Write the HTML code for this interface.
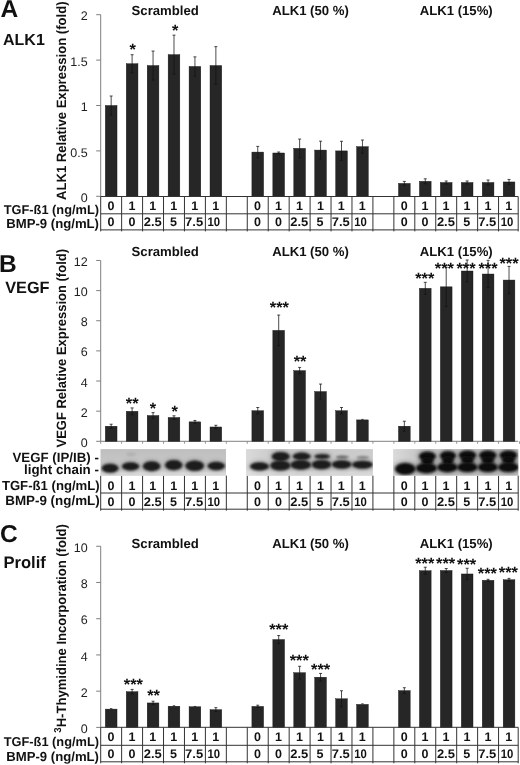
<!DOCTYPE html>
<html lang="en"><head><meta charset="utf-8"><title>Figure</title>
<style>html,body{margin:0;padding:0;background:#fff}body{width:520px;height:765px;overflow:hidden}svg{display:block;will-change:transform}</style>
</head><body>
<svg width="520" height="765" viewBox="0 0 520 765" font-family='"Liberation Sans", Arial, Helvetica, sans-serif' text-rendering="geometricPrecision">
<defs><filter id="b1" x="-30%" y="-60%" width="160%" height="220%"><feGaussianBlur stdDeviation="1.0"/></filter><filter id="b2" x="-40%" y="-80%" width="180%" height="260%"><feGaussianBlur stdDeviation="2.2"/></filter><linearGradient id="g1" x1="0" y1="0" x2="0" y2="1"><stop offset="0" stop-color="#bebebe"/><stop offset="0.6" stop-color="#c8c8c8"/><stop offset="1" stop-color="#d2d2d2"/></linearGradient><linearGradient id="g2" x1="0" y1="0" x2="1" y2="0"><stop offset="0" stop-color="#dadada"/><stop offset="0.25" stop-color="#c8c8c8"/><stop offset="1" stop-color="#cccccc"/></linearGradient><linearGradient id="g3" x1="0" y1="0" x2="1" y2="0"><stop offset="0" stop-color="#dadada"/><stop offset="0.2" stop-color="#c6c6c6"/><stop offset="1" stop-color="#bcbcbc"/></linearGradient></defs>
<rect width="520" height="765" fill="#fff"/>
<line x1="100.7" y1="14.70" x2="100.7" y2="196.30" stroke="#7f7f7f" stroke-width="1"/>
<line x1="96.2" y1="196.30" x2="100.7" y2="196.30" stroke="#7f7f7f" stroke-width="1"/>
<text x="87.60" y="201.90" font-size="12.5" font-weight="normal" text-anchor="end" fill="#222" >0</text>
<line x1="96.2" y1="150.90" x2="100.7" y2="150.90" stroke="#7f7f7f" stroke-width="1"/>
<text x="87.60" y="156.50" font-size="12.5" font-weight="normal" text-anchor="end" fill="#222" >0.5</text>
<line x1="96.2" y1="105.50" x2="100.7" y2="105.50" stroke="#7f7f7f" stroke-width="1"/>
<text x="87.60" y="111.10" font-size="12.5" font-weight="normal" text-anchor="end" fill="#222" >1</text>
<line x1="96.2" y1="60.10" x2="100.7" y2="60.10" stroke="#7f7f7f" stroke-width="1"/>
<text x="87.60" y="65.70" font-size="12.5" font-weight="normal" text-anchor="end" fill="#222" >1.5</text>
<line x1="96.2" y1="14.70" x2="100.7" y2="14.70" stroke="#7f7f7f" stroke-width="1"/>
<text x="87.60" y="20.30" font-size="12.5" font-weight="normal" text-anchor="end" fill="#222" >2</text>
<rect x="105.32" y="105.50" width="11.7" height="90.80" fill="#262626" stroke="#111" stroke-width="0.4"/>
<path d="M111.17 96.00V105.50M109.67 96.00h3" stroke="#111" stroke-width="0.75" fill="none"/>
<path d="M111.17 105.50V115.00M109.67 115.00h3" stroke="#141414" stroke-width="0.8" fill="none"/>
<rect x="126.26" y="63.73" width="11.7" height="132.57" fill="#262626" stroke="#111" stroke-width="0.4"/>
<path d="M132.11 54.73V63.73M130.61 54.73h3" stroke="#111" stroke-width="0.75" fill="none"/>
<path d="M132.11 63.73V72.73M130.61 72.73h3" stroke="#141414" stroke-width="0.8" fill="none"/>
<rect x="147.20" y="65.55" width="11.7" height="130.75" fill="#262626" stroke="#111" stroke-width="0.4"/>
<path d="M153.05 51.05V65.55M151.55 51.05h3" stroke="#111" stroke-width="0.75" fill="none"/>
<path d="M153.05 65.55V80.05M151.55 80.05h3" stroke="#141414" stroke-width="0.8" fill="none"/>
<rect x="168.14" y="54.65" width="11.7" height="141.65" fill="#262626" stroke="#111" stroke-width="0.4"/>
<path d="M173.99 35.15V54.65M172.49 35.15h3" stroke="#111" stroke-width="0.75" fill="none"/>
<path d="M173.99 54.65V74.15M172.49 74.15h3" stroke="#141414" stroke-width="0.8" fill="none"/>
<rect x="189.08" y="66.46" width="11.7" height="129.84" fill="#262626" stroke="#111" stroke-width="0.4"/>
<path d="M194.93 56.86V66.46M193.43 56.86h3" stroke="#111" stroke-width="0.75" fill="none"/>
<path d="M194.93 66.46V76.06M193.43 76.06h3" stroke="#141414" stroke-width="0.8" fill="none"/>
<rect x="210.02" y="65.55" width="11.7" height="130.75" fill="#262626" stroke="#111" stroke-width="0.4"/>
<path d="M215.87 46.65V65.55M214.37 46.65h3" stroke="#111" stroke-width="0.75" fill="none"/>
<path d="M215.87 65.55V84.45M214.37 84.45h3" stroke="#141414" stroke-width="0.8" fill="none"/>
<rect x="251.90" y="152.08" width="11.7" height="44.22" fill="#262626" stroke="#111" stroke-width="0.4"/>
<path d="M257.75 146.38V152.08M256.25 146.38h3" stroke="#111" stroke-width="0.75" fill="none"/>
<path d="M257.75 152.08V157.78M256.25 157.78h3" stroke="#141414" stroke-width="0.8" fill="none"/>
<rect x="272.84" y="152.99" width="11.7" height="43.31" fill="#262626" stroke="#111" stroke-width="0.4"/>
<path d="M278.69 151.99V152.99M277.19 151.99h3" stroke="#111" stroke-width="0.75" fill="none"/>
<path d="M278.69 152.99V153.99M277.19 153.99h3" stroke="#141414" stroke-width="0.8" fill="none"/>
<rect x="293.78" y="148.36" width="11.7" height="47.94" fill="#262626" stroke="#111" stroke-width="0.4"/>
<path d="M299.63 139.06V148.36M298.13 139.06h3" stroke="#111" stroke-width="0.75" fill="none"/>
<path d="M299.63 148.36V157.66M298.13 157.66h3" stroke="#141414" stroke-width="0.8" fill="none"/>
<rect x="314.72" y="150.08" width="11.7" height="46.22" fill="#262626" stroke="#111" stroke-width="0.4"/>
<path d="M320.57 141.18V150.08M319.07 141.18h3" stroke="#111" stroke-width="0.75" fill="none"/>
<path d="M320.57 150.08V158.98M319.07 158.98h3" stroke="#141414" stroke-width="0.8" fill="none"/>
<rect x="335.66" y="150.90" width="11.7" height="45.40" fill="#262626" stroke="#111" stroke-width="0.4"/>
<path d="M341.51 141.30V150.90M340.01 141.30h3" stroke="#111" stroke-width="0.75" fill="none"/>
<path d="M341.51 150.90V160.50M340.01 160.50h3" stroke="#141414" stroke-width="0.8" fill="none"/>
<rect x="356.60" y="146.63" width="11.7" height="49.67" fill="#262626" stroke="#111" stroke-width="0.4"/>
<path d="M362.45 140.03V146.63M360.95 140.03h3" stroke="#111" stroke-width="0.75" fill="none"/>
<path d="M362.45 146.63V153.23M360.95 153.23h3" stroke="#141414" stroke-width="0.8" fill="none"/>
<rect x="398.48" y="183.41" width="11.7" height="12.89" fill="#262626" stroke="#111" stroke-width="0.4"/>
<path d="M404.33 181.41V183.41M402.83 181.41h3" stroke="#111" stroke-width="0.75" fill="none"/>
<path d="M404.33 183.41V185.41M402.83 185.41h3" stroke="#141414" stroke-width="0.8" fill="none"/>
<rect x="419.42" y="181.32" width="11.7" height="14.98" fill="#262626" stroke="#111" stroke-width="0.4"/>
<path d="M425.27 178.82V181.32M423.77 178.82h3" stroke="#111" stroke-width="0.75" fill="none"/>
<path d="M425.27 181.32V183.82M423.77 183.82h3" stroke="#141414" stroke-width="0.8" fill="none"/>
<rect x="440.36" y="182.50" width="11.7" height="13.80" fill="#262626" stroke="#111" stroke-width="0.4"/>
<path d="M446.21 181.00V182.50M444.71 181.00h3" stroke="#111" stroke-width="0.75" fill="none"/>
<path d="M446.21 182.50V184.00M444.71 184.00h3" stroke="#141414" stroke-width="0.8" fill="none"/>
<rect x="461.30" y="182.50" width="11.7" height="13.80" fill="#262626" stroke="#111" stroke-width="0.4"/>
<path d="M467.15 181.00V182.50M465.65 181.00h3" stroke="#111" stroke-width="0.75" fill="none"/>
<path d="M467.15 182.50V184.00M465.65 184.00h3" stroke="#141414" stroke-width="0.8" fill="none"/>
<rect x="482.24" y="182.50" width="11.7" height="13.80" fill="#262626" stroke="#111" stroke-width="0.4"/>
<path d="M488.09 180.00V182.50M486.59 180.00h3" stroke="#111" stroke-width="0.75" fill="none"/>
<path d="M488.09 182.50V185.00M486.59 185.00h3" stroke="#141414" stroke-width="0.8" fill="none"/>
<rect x="503.18" y="181.95" width="11.7" height="14.35" fill="#262626" stroke="#111" stroke-width="0.4"/>
<path d="M509.03 179.45V181.95M507.53 179.45h3" stroke="#111" stroke-width="0.75" fill="none"/>
<path d="M509.03 181.95V184.45M507.53 184.45h3" stroke="#141414" stroke-width="0.8" fill="none"/>
<text x="132.70" y="55.30" font-size="16.4" font-weight="bold" text-anchor="middle" fill="#111" >*</text>
<text x="175.20" y="35.70" font-size="16.4" font-weight="bold" text-anchor="middle" fill="#111" >*</text>
<text transform="translate(65.6,200.00) rotate(-90)" font-size="13.5" font-weight="bold" fill="#111" textLength="198.5" lengthAdjust="spacingAndGlyphs">ALK1 Relative Expression (fold)</text>
<text x="0.50" y="17.40" font-size="24.5" font-weight="bold" text-anchor="start" fill="#111" >A</text>
<text x="3.00" y="44.90" font-size="16" font-weight="bold" text-anchor="start" fill="#111" >ALK1</text>
<text x="165.20" y="15.30" font-size="13.15" font-weight="bold" text-anchor="middle" fill="#111" >Scrambled</text>
<text x="310.50" y="15.30" font-size="13.15" font-weight="bold" text-anchor="middle" fill="#111" >ALK1 (50 %)</text>
<text x="456.20" y="15.30" font-size="13.15" font-weight="bold" text-anchor="middle" fill="#111" >ALK1 (15%)</text>
<line x1="100.7" y1="196.50" x2="518.20" y2="196.50" stroke="#333" stroke-width="1"/>
<line x1="100.7" y1="213.80" x2="518.20" y2="213.80" stroke="#333" stroke-width="1"/>
<line x1="100.7" y1="229.90" x2="518.20" y2="229.90" stroke="#333" stroke-width="1"/>
<line x1="100.70" y1="196.50" x2="100.70" y2="231.40" stroke="#333" stroke-width="1"/>
<line x1="121.64" y1="196.50" x2="121.64" y2="231.40" stroke="#333" stroke-width="1"/>
<line x1="142.58" y1="196.50" x2="142.58" y2="231.40" stroke="#333" stroke-width="1"/>
<line x1="163.52" y1="196.50" x2="163.52" y2="231.40" stroke="#333" stroke-width="1"/>
<line x1="184.46" y1="196.50" x2="184.46" y2="231.40" stroke="#333" stroke-width="1"/>
<line x1="205.40" y1="196.50" x2="205.40" y2="231.40" stroke="#333" stroke-width="1"/>
<line x1="226.34" y1="196.50" x2="226.34" y2="231.40" stroke="#333" stroke-width="1"/>
<line x1="247.28" y1="196.50" x2="247.28" y2="231.40" stroke="#333" stroke-width="1"/>
<line x1="268.22" y1="196.50" x2="268.22" y2="231.40" stroke="#333" stroke-width="1"/>
<line x1="289.16" y1="196.50" x2="289.16" y2="231.40" stroke="#333" stroke-width="1"/>
<line x1="310.10" y1="196.50" x2="310.10" y2="231.40" stroke="#333" stroke-width="1"/>
<line x1="331.04" y1="196.50" x2="331.04" y2="231.40" stroke="#333" stroke-width="1"/>
<line x1="351.98" y1="196.50" x2="351.98" y2="231.40" stroke="#333" stroke-width="1"/>
<line x1="372.92" y1="196.50" x2="372.92" y2="231.40" stroke="#333" stroke-width="1"/>
<line x1="393.86" y1="196.50" x2="393.86" y2="231.40" stroke="#333" stroke-width="1"/>
<line x1="414.80" y1="196.50" x2="414.80" y2="231.40" stroke="#333" stroke-width="1"/>
<line x1="435.74" y1="196.50" x2="435.74" y2="231.40" stroke="#333" stroke-width="1"/>
<line x1="456.68" y1="196.50" x2="456.68" y2="231.40" stroke="#333" stroke-width="1"/>
<line x1="477.62" y1="196.50" x2="477.62" y2="231.40" stroke="#333" stroke-width="1"/>
<line x1="498.56" y1="196.50" x2="498.56" y2="231.40" stroke="#333" stroke-width="1"/>
<line x1="518.20" y1="196.50" x2="518.20" y2="231.40" stroke="#333" stroke-width="1"/>
<text x="99.00" y="213.70" font-size="12.8" font-weight="bold" text-anchor="end" fill="#111" >TGF-ß1 (ng/mL)</text>
<text x="99.00" y="228.40" font-size="13.15" font-weight="bold" text-anchor="end" fill="#111" >BMP-9 (ng/mL)</text>
<text x="110.97" y="209.70" font-size="12.5" font-weight="bold" text-anchor="middle" fill="#111" >0</text>
<text x="110.97" y="225.80" font-size="12.5" font-weight="bold" text-anchor="middle" fill="#111" >0</text>
<text x="131.91" y="209.70" font-size="12.5" font-weight="bold" text-anchor="middle" fill="#111" >1</text>
<text x="131.91" y="225.80" font-size="12.5" font-weight="bold" text-anchor="middle" fill="#111" >0</text>
<text x="152.85" y="209.70" font-size="12.5" font-weight="bold" text-anchor="middle" fill="#111" >1</text>
<text x="152.75" y="225.80" font-size="12.5" font-weight="bold" text-anchor="middle" fill="#111" textLength="18" lengthAdjust="spacingAndGlyphs">2.5</text>
<text x="173.79" y="209.70" font-size="12.5" font-weight="bold" text-anchor="middle" fill="#111" >1</text>
<text x="173.49" y="225.80" font-size="12.5" font-weight="bold" text-anchor="middle" fill="#111" >5</text>
<text x="194.73" y="209.70" font-size="12.5" font-weight="bold" text-anchor="middle" fill="#111" >1</text>
<text x="194.13" y="225.80" font-size="12.5" font-weight="bold" text-anchor="middle" fill="#111" textLength="18" lengthAdjust="spacingAndGlyphs">7.5</text>
<text x="215.67" y="209.70" font-size="12.5" font-weight="bold" text-anchor="middle" fill="#111" >1</text>
<text x="213.87" y="225.80" font-size="12.5" font-weight="bold" text-anchor="middle" fill="#111" textLength="12.6" lengthAdjust="spacingAndGlyphs">10</text>
<text x="257.55" y="209.70" font-size="12.5" font-weight="bold" text-anchor="middle" fill="#111" >0</text>
<text x="257.55" y="225.80" font-size="12.5" font-weight="bold" text-anchor="middle" fill="#111" >0</text>
<text x="278.49" y="209.70" font-size="12.5" font-weight="bold" text-anchor="middle" fill="#111" >1</text>
<text x="278.49" y="225.80" font-size="12.5" font-weight="bold" text-anchor="middle" fill="#111" >0</text>
<text x="299.43" y="209.70" font-size="12.5" font-weight="bold" text-anchor="middle" fill="#111" >1</text>
<text x="299.33" y="225.80" font-size="12.5" font-weight="bold" text-anchor="middle" fill="#111" textLength="18" lengthAdjust="spacingAndGlyphs">2.5</text>
<text x="320.37" y="209.70" font-size="12.5" font-weight="bold" text-anchor="middle" fill="#111" >1</text>
<text x="320.07" y="225.80" font-size="12.5" font-weight="bold" text-anchor="middle" fill="#111" >5</text>
<text x="341.31" y="209.70" font-size="12.5" font-weight="bold" text-anchor="middle" fill="#111" >1</text>
<text x="340.71" y="225.80" font-size="12.5" font-weight="bold" text-anchor="middle" fill="#111" textLength="18" lengthAdjust="spacingAndGlyphs">7.5</text>
<text x="362.25" y="209.70" font-size="12.5" font-weight="bold" text-anchor="middle" fill="#111" >1</text>
<text x="360.45" y="225.80" font-size="12.5" font-weight="bold" text-anchor="middle" fill="#111" textLength="12.6" lengthAdjust="spacingAndGlyphs">10</text>
<text x="404.13" y="209.70" font-size="12.5" font-weight="bold" text-anchor="middle" fill="#111" >0</text>
<text x="404.13" y="225.80" font-size="12.5" font-weight="bold" text-anchor="middle" fill="#111" >0</text>
<text x="425.07" y="209.70" font-size="12.5" font-weight="bold" text-anchor="middle" fill="#111" >1</text>
<text x="425.07" y="225.80" font-size="12.5" font-weight="bold" text-anchor="middle" fill="#111" >0</text>
<text x="446.01" y="209.70" font-size="12.5" font-weight="bold" text-anchor="middle" fill="#111" >1</text>
<text x="445.91" y="225.80" font-size="12.5" font-weight="bold" text-anchor="middle" fill="#111" textLength="18" lengthAdjust="spacingAndGlyphs">2.5</text>
<text x="466.95" y="209.70" font-size="12.5" font-weight="bold" text-anchor="middle" fill="#111" >1</text>
<text x="466.65" y="225.80" font-size="12.5" font-weight="bold" text-anchor="middle" fill="#111" >5</text>
<text x="487.89" y="209.70" font-size="12.5" font-weight="bold" text-anchor="middle" fill="#111" >1</text>
<text x="487.29" y="225.80" font-size="12.5" font-weight="bold" text-anchor="middle" fill="#111" textLength="18" lengthAdjust="spacingAndGlyphs">7.5</text>
<text x="508.83" y="209.70" font-size="12.5" font-weight="bold" text-anchor="middle" fill="#111" >1</text>
<text x="507.03" y="225.80" font-size="12.5" font-weight="bold" text-anchor="middle" fill="#111" textLength="12.6" lengthAdjust="spacingAndGlyphs">10</text>
<line x1="100.7" y1="260.50" x2="100.7" y2="441.30" stroke="#7f7f7f" stroke-width="1"/>
<line x1="96.2" y1="441.30" x2="100.7" y2="441.30" stroke="#7f7f7f" stroke-width="1"/>
<text x="87.60" y="446.90" font-size="12.5" font-weight="normal" text-anchor="end" fill="#222" >0</text>
<line x1="96.2" y1="411.16" x2="100.7" y2="411.16" stroke="#7f7f7f" stroke-width="1"/>
<text x="87.60" y="416.76" font-size="12.5" font-weight="normal" text-anchor="end" fill="#222" >2</text>
<line x1="96.2" y1="381.02" x2="100.7" y2="381.02" stroke="#7f7f7f" stroke-width="1"/>
<text x="87.60" y="386.62" font-size="12.5" font-weight="normal" text-anchor="end" fill="#222" >4</text>
<line x1="96.2" y1="350.88" x2="100.7" y2="350.88" stroke="#7f7f7f" stroke-width="1"/>
<text x="87.60" y="356.48" font-size="12.5" font-weight="normal" text-anchor="end" fill="#222" >6</text>
<line x1="96.2" y1="320.74" x2="100.7" y2="320.74" stroke="#7f7f7f" stroke-width="1"/>
<text x="87.60" y="326.34" font-size="12.5" font-weight="normal" text-anchor="end" fill="#222" >8</text>
<line x1="96.2" y1="290.60" x2="100.7" y2="290.60" stroke="#7f7f7f" stroke-width="1"/>
<text x="87.60" y="296.20" font-size="12.5" font-weight="normal" text-anchor="end" fill="#222" >10</text>
<line x1="96.2" y1="260.46" x2="100.7" y2="260.46" stroke="#7f7f7f" stroke-width="1"/>
<text x="87.60" y="266.06" font-size="12.5" font-weight="normal" text-anchor="end" fill="#222" >12</text>
<line x1="100.7" y1="441.30" x2="518.20" y2="441.30" stroke="#7f7f7f" stroke-width="1"/>
<line x1="100.70" y1="441.30" x2="100.70" y2="443.80" stroke="#7f7f7f" stroke-width="0.8"/>
<line x1="121.64" y1="441.30" x2="121.64" y2="443.80" stroke="#7f7f7f" stroke-width="0.8"/>
<line x1="142.58" y1="441.30" x2="142.58" y2="443.80" stroke="#7f7f7f" stroke-width="0.8"/>
<line x1="163.52" y1="441.30" x2="163.52" y2="443.80" stroke="#7f7f7f" stroke-width="0.8"/>
<line x1="184.46" y1="441.30" x2="184.46" y2="443.80" stroke="#7f7f7f" stroke-width="0.8"/>
<line x1="205.40" y1="441.30" x2="205.40" y2="443.80" stroke="#7f7f7f" stroke-width="0.8"/>
<line x1="226.34" y1="441.30" x2="226.34" y2="443.80" stroke="#7f7f7f" stroke-width="0.8"/>
<line x1="247.28" y1="441.30" x2="247.28" y2="443.80" stroke="#7f7f7f" stroke-width="0.8"/>
<line x1="268.22" y1="441.30" x2="268.22" y2="443.80" stroke="#7f7f7f" stroke-width="0.8"/>
<line x1="289.16" y1="441.30" x2="289.16" y2="443.80" stroke="#7f7f7f" stroke-width="0.8"/>
<line x1="310.10" y1="441.30" x2="310.10" y2="443.80" stroke="#7f7f7f" stroke-width="0.8"/>
<line x1="331.04" y1="441.30" x2="331.04" y2="443.80" stroke="#7f7f7f" stroke-width="0.8"/>
<line x1="351.98" y1="441.30" x2="351.98" y2="443.80" stroke="#7f7f7f" stroke-width="0.8"/>
<line x1="372.92" y1="441.30" x2="372.92" y2="443.80" stroke="#7f7f7f" stroke-width="0.8"/>
<line x1="393.86" y1="441.30" x2="393.86" y2="443.80" stroke="#7f7f7f" stroke-width="0.8"/>
<line x1="414.80" y1="441.30" x2="414.80" y2="443.80" stroke="#7f7f7f" stroke-width="0.8"/>
<line x1="435.74" y1="441.30" x2="435.74" y2="443.80" stroke="#7f7f7f" stroke-width="0.8"/>
<line x1="456.68" y1="441.30" x2="456.68" y2="443.80" stroke="#7f7f7f" stroke-width="0.8"/>
<line x1="477.62" y1="441.30" x2="477.62" y2="443.80" stroke="#7f7f7f" stroke-width="0.8"/>
<line x1="498.56" y1="441.30" x2="498.56" y2="443.80" stroke="#7f7f7f" stroke-width="0.8"/>
<line x1="519.50" y1="441.30" x2="519.50" y2="443.80" stroke="#7f7f7f" stroke-width="0.8"/>
<rect x="105.32" y="426.23" width="11.7" height="15.07" fill="#262626" stroke="#111" stroke-width="0.4"/>
<path d="M111.17 424.23V426.23M109.67 424.23h3" stroke="#111" stroke-width="0.75" fill="none"/>
<path d="M111.17 426.23V428.23M109.67 428.23h3" stroke="#141414" stroke-width="0.8" fill="none"/>
<rect x="126.26" y="411.31" width="11.7" height="29.99" fill="#262626" stroke="#111" stroke-width="0.4"/>
<path d="M132.11 407.91V411.31M130.61 407.91h3" stroke="#111" stroke-width="0.75" fill="none"/>
<path d="M132.11 411.31V414.71M130.61 414.71h3" stroke="#141414" stroke-width="0.8" fill="none"/>
<rect x="147.20" y="415.53" width="11.7" height="25.77" fill="#262626" stroke="#111" stroke-width="0.4"/>
<path d="M153.05 412.63V415.53M151.55 412.63h3" stroke="#111" stroke-width="0.75" fill="none"/>
<path d="M153.05 415.53V418.43M151.55 418.43h3" stroke="#141414" stroke-width="0.8" fill="none"/>
<rect x="168.14" y="417.49" width="11.7" height="23.81" fill="#262626" stroke="#111" stroke-width="0.4"/>
<path d="M173.99 415.79V417.49M172.49 415.79h3" stroke="#111" stroke-width="0.75" fill="none"/>
<path d="M173.99 417.49V419.19M172.49 419.19h3" stroke="#141414" stroke-width="0.8" fill="none"/>
<rect x="189.08" y="421.86" width="11.7" height="19.44" fill="#262626" stroke="#111" stroke-width="0.4"/>
<path d="M194.93 420.46V421.86M193.43 420.46h3" stroke="#111" stroke-width="0.75" fill="none"/>
<path d="M194.93 421.86V423.26M193.43 423.26h3" stroke="#141414" stroke-width="0.8" fill="none"/>
<rect x="210.02" y="426.98" width="11.7" height="14.32" fill="#262626" stroke="#111" stroke-width="0.4"/>
<path d="M215.87 425.28V426.98M214.37 425.28h3" stroke="#111" stroke-width="0.75" fill="none"/>
<path d="M215.87 426.98V428.68M214.37 428.68h3" stroke="#141414" stroke-width="0.8" fill="none"/>
<rect x="251.90" y="410.71" width="11.7" height="30.59" fill="#262626" stroke="#111" stroke-width="0.4"/>
<path d="M257.75 407.51V410.71M256.25 407.51h3" stroke="#111" stroke-width="0.75" fill="none"/>
<path d="M257.75 410.71V413.91M256.25 413.91h3" stroke="#141414" stroke-width="0.8" fill="none"/>
<rect x="272.84" y="330.38" width="11.7" height="110.92" fill="#262626" stroke="#111" stroke-width="0.4"/>
<path d="M278.69 315.08V330.38M277.19 315.08h3" stroke="#111" stroke-width="0.75" fill="none"/>
<path d="M278.69 330.38V345.68M277.19 345.68h3" stroke="#141414" stroke-width="0.8" fill="none"/>
<rect x="293.78" y="370.62" width="11.7" height="70.68" fill="#262626" stroke="#111" stroke-width="0.4"/>
<path d="M299.63 367.42V370.62M298.13 367.42h3" stroke="#111" stroke-width="0.75" fill="none"/>
<path d="M299.63 370.62V373.82M298.13 373.82h3" stroke="#141414" stroke-width="0.8" fill="none"/>
<rect x="314.72" y="391.57" width="11.7" height="49.73" fill="#262626" stroke="#111" stroke-width="0.4"/>
<path d="M320.57 384.07V391.57M319.07 384.07h3" stroke="#111" stroke-width="0.75" fill="none"/>
<path d="M320.57 391.57V399.07M319.07 399.07h3" stroke="#141414" stroke-width="0.8" fill="none"/>
<rect x="335.66" y="410.71" width="11.7" height="30.59" fill="#262626" stroke="#111" stroke-width="0.4"/>
<path d="M341.51 407.51V410.71M340.01 407.51h3" stroke="#111" stroke-width="0.75" fill="none"/>
<path d="M341.51 410.71V413.91M340.01 413.91h3" stroke="#141414" stroke-width="0.8" fill="none"/>
<rect x="356.60" y="419.90" width="11.7" height="21.40" fill="#262626" stroke="#111" stroke-width="0.4"/>
<path d="M361.25 419.40h2.4" stroke="#222" stroke-width="0.8" fill="none"/>
<rect x="398.48" y="426.23" width="11.7" height="15.07" fill="#262626" stroke="#111" stroke-width="0.4"/>
<path d="M404.33 421.23V426.23M402.83 421.23h3" stroke="#111" stroke-width="0.75" fill="none"/>
<path d="M404.33 426.23V431.23M402.83 431.23h3" stroke="#141414" stroke-width="0.8" fill="none"/>
<rect x="419.42" y="288.34" width="11.7" height="152.96" fill="#262626" stroke="#111" stroke-width="0.4"/>
<path d="M425.27 282.34V288.34M423.77 282.34h3" stroke="#111" stroke-width="0.75" fill="none"/>
<path d="M425.27 288.34V294.34M423.77 294.34h3" stroke="#141414" stroke-width="0.8" fill="none"/>
<rect x="440.36" y="286.83" width="11.7" height="154.47" fill="#262626" stroke="#111" stroke-width="0.4"/>
<path d="M446.21 267.23V286.83M444.71 267.23h3" stroke="#111" stroke-width="0.75" fill="none"/>
<path d="M446.21 286.83V306.43M444.71 306.43h3" stroke="#141414" stroke-width="0.8" fill="none"/>
<rect x="461.30" y="271.01" width="11.7" height="170.29" fill="#262626" stroke="#111" stroke-width="0.4"/>
<path d="M467.15 260.01V271.01M465.65 260.01h3" stroke="#111" stroke-width="0.75" fill="none"/>
<path d="M467.15 271.01V282.01M465.65 282.01h3" stroke="#141414" stroke-width="0.8" fill="none"/>
<rect x="482.24" y="274.02" width="11.7" height="167.28" fill="#262626" stroke="#111" stroke-width="0.4"/>
<path d="M488.09 260.32V274.02M486.59 260.32h3" stroke="#111" stroke-width="0.75" fill="none"/>
<path d="M488.09 274.02V287.72M486.59 287.72h3" stroke="#141414" stroke-width="0.8" fill="none"/>
<rect x="503.18" y="280.05" width="11.7" height="161.25" fill="#262626" stroke="#111" stroke-width="0.4"/>
<path d="M509.03 266.35V280.05M507.53 266.35h3" stroke="#111" stroke-width="0.75" fill="none"/>
<path d="M509.03 280.05V293.75M507.53 293.75h3" stroke="#141414" stroke-width="0.8" fill="none"/>
<text x="132.20" y="409.00" font-size="16.4" font-weight="bold" text-anchor="middle" fill="#111" >**</text>
<text x="153.00" y="414.00" font-size="16.4" font-weight="bold" text-anchor="middle" fill="#111" >*</text>
<text x="174.60" y="416.70" font-size="16.4" font-weight="bold" text-anchor="middle" fill="#111" >*</text>
<text x="279.40" y="312.90" font-size="16.4" font-weight="bold" text-anchor="middle" fill="#111" >***</text>
<text x="300.10" y="366.90" font-size="16.4" font-weight="bold" text-anchor="middle" fill="#111" >**</text>
<text x="424.75" y="283.90" font-size="16.4" font-weight="bold" text-anchor="middle" fill="#111" >***</text>
<text x="444.40" y="274.20" font-size="16.4" font-weight="bold" text-anchor="middle" fill="#111" >***</text>
<text x="466.00" y="274.20" font-size="16.4" font-weight="bold" text-anchor="middle" fill="#111" >***</text>
<text x="488.00" y="274.20" font-size="16.4" font-weight="bold" text-anchor="middle" fill="#111" >***</text>
<text x="509.00" y="269.20" font-size="16.4" font-weight="bold" text-anchor="middle" fill="#111" >***</text>
<text transform="translate(65.6,447.50) rotate(-90)" font-size="13.5" font-weight="bold" fill="#111" textLength="198.5" lengthAdjust="spacingAndGlyphs">VEGF Relative Expression (fold)</text>
<text x="-1.10" y="272.20" font-size="24.5" font-weight="bold" text-anchor="start" fill="#111" >B</text>
<text x="5.20" y="292.90" font-size="16.3" font-weight="bold" text-anchor="start" fill="#111" >VEGF</text>
<text x="165.20" y="255.80" font-size="13.15" font-weight="bold" text-anchor="middle" fill="#111" >Scrambled</text>
<text x="310.50" y="255.80" font-size="13.15" font-weight="bold" text-anchor="middle" fill="#111" >ALK1 (50 %)</text>
<text x="456.20" y="255.80" font-size="13.15" font-weight="bold" text-anchor="middle" fill="#111" >ALK1 (15%)</text>
<line x1="100.7" y1="493.00" x2="518.20" y2="493.00" stroke="#333" stroke-width="1"/>
<line x1="100.7" y1="509.20" x2="518.20" y2="509.20" stroke="#333" stroke-width="1"/>
<line x1="100.70" y1="475.60" x2="100.70" y2="510.70" stroke="#333" stroke-width="1"/>
<line x1="121.64" y1="475.60" x2="121.64" y2="510.70" stroke="#333" stroke-width="1"/>
<line x1="142.58" y1="475.60" x2="142.58" y2="510.70" stroke="#333" stroke-width="1"/>
<line x1="163.52" y1="475.60" x2="163.52" y2="510.70" stroke="#333" stroke-width="1"/>
<line x1="184.46" y1="475.60" x2="184.46" y2="510.70" stroke="#333" stroke-width="1"/>
<line x1="205.40" y1="475.60" x2="205.40" y2="510.70" stroke="#333" stroke-width="1"/>
<line x1="226.34" y1="475.60" x2="226.34" y2="510.70" stroke="#333" stroke-width="1"/>
<line x1="247.28" y1="475.60" x2="247.28" y2="510.70" stroke="#333" stroke-width="1"/>
<line x1="268.22" y1="475.60" x2="268.22" y2="510.70" stroke="#333" stroke-width="1"/>
<line x1="289.16" y1="475.60" x2="289.16" y2="510.70" stroke="#333" stroke-width="1"/>
<line x1="310.10" y1="475.60" x2="310.10" y2="510.70" stroke="#333" stroke-width="1"/>
<line x1="331.04" y1="475.60" x2="331.04" y2="510.70" stroke="#333" stroke-width="1"/>
<line x1="351.98" y1="475.60" x2="351.98" y2="510.70" stroke="#333" stroke-width="1"/>
<line x1="372.92" y1="475.60" x2="372.92" y2="510.70" stroke="#333" stroke-width="1"/>
<line x1="393.86" y1="475.60" x2="393.86" y2="510.70" stroke="#333" stroke-width="1"/>
<line x1="414.80" y1="475.60" x2="414.80" y2="510.70" stroke="#333" stroke-width="1"/>
<line x1="435.74" y1="475.60" x2="435.74" y2="510.70" stroke="#333" stroke-width="1"/>
<line x1="456.68" y1="475.60" x2="456.68" y2="510.70" stroke="#333" stroke-width="1"/>
<line x1="477.62" y1="475.60" x2="477.62" y2="510.70" stroke="#333" stroke-width="1"/>
<line x1="498.56" y1="475.60" x2="498.56" y2="510.70" stroke="#333" stroke-width="1"/>
<line x1="518.20" y1="475.60" x2="518.20" y2="510.70" stroke="#333" stroke-width="1"/>
<text x="99.70" y="490.00" font-size="13.15" font-weight="bold" text-anchor="end" fill="#111" >TGF-ß1 (ng/mL)</text>
<text x="99.70" y="505.10" font-size="13.4" font-weight="bold" text-anchor="end" fill="#111" >BMP-9 (ng/mL)</text>
<text x="110.97" y="489.80" font-size="12.5" font-weight="bold" text-anchor="middle" fill="#111" >0</text>
<text x="110.97" y="505.50" font-size="12.5" font-weight="bold" text-anchor="middle" fill="#111" >0</text>
<text x="131.91" y="489.80" font-size="12.5" font-weight="bold" text-anchor="middle" fill="#111" >1</text>
<text x="131.91" y="505.50" font-size="12.5" font-weight="bold" text-anchor="middle" fill="#111" >0</text>
<text x="152.85" y="489.80" font-size="12.5" font-weight="bold" text-anchor="middle" fill="#111" >1</text>
<text x="152.75" y="505.50" font-size="12.5" font-weight="bold" text-anchor="middle" fill="#111" textLength="18" lengthAdjust="spacingAndGlyphs">2.5</text>
<text x="173.79" y="489.80" font-size="12.5" font-weight="bold" text-anchor="middle" fill="#111" >1</text>
<text x="173.49" y="505.50" font-size="12.5" font-weight="bold" text-anchor="middle" fill="#111" >5</text>
<text x="194.73" y="489.80" font-size="12.5" font-weight="bold" text-anchor="middle" fill="#111" >1</text>
<text x="194.13" y="505.50" font-size="12.5" font-weight="bold" text-anchor="middle" fill="#111" textLength="18" lengthAdjust="spacingAndGlyphs">7.5</text>
<text x="215.67" y="489.80" font-size="12.5" font-weight="bold" text-anchor="middle" fill="#111" >1</text>
<text x="213.87" y="505.50" font-size="12.5" font-weight="bold" text-anchor="middle" fill="#111" textLength="12.6" lengthAdjust="spacingAndGlyphs">10</text>
<text x="257.55" y="489.80" font-size="12.5" font-weight="bold" text-anchor="middle" fill="#111" >0</text>
<text x="257.55" y="505.50" font-size="12.5" font-weight="bold" text-anchor="middle" fill="#111" >0</text>
<text x="278.49" y="489.80" font-size="12.5" font-weight="bold" text-anchor="middle" fill="#111" >1</text>
<text x="278.49" y="505.50" font-size="12.5" font-weight="bold" text-anchor="middle" fill="#111" >0</text>
<text x="299.43" y="489.80" font-size="12.5" font-weight="bold" text-anchor="middle" fill="#111" >1</text>
<text x="299.33" y="505.50" font-size="12.5" font-weight="bold" text-anchor="middle" fill="#111" textLength="18" lengthAdjust="spacingAndGlyphs">2.5</text>
<text x="320.37" y="489.80" font-size="12.5" font-weight="bold" text-anchor="middle" fill="#111" >1</text>
<text x="320.07" y="505.50" font-size="12.5" font-weight="bold" text-anchor="middle" fill="#111" >5</text>
<text x="341.31" y="489.80" font-size="12.5" font-weight="bold" text-anchor="middle" fill="#111" >1</text>
<text x="340.71" y="505.50" font-size="12.5" font-weight="bold" text-anchor="middle" fill="#111" textLength="18" lengthAdjust="spacingAndGlyphs">7.5</text>
<text x="362.25" y="489.80" font-size="12.5" font-weight="bold" text-anchor="middle" fill="#111" >1</text>
<text x="360.45" y="505.50" font-size="12.5" font-weight="bold" text-anchor="middle" fill="#111" textLength="12.6" lengthAdjust="spacingAndGlyphs">10</text>
<text x="404.13" y="489.80" font-size="12.5" font-weight="bold" text-anchor="middle" fill="#111" >0</text>
<text x="404.13" y="505.50" font-size="12.5" font-weight="bold" text-anchor="middle" fill="#111" >0</text>
<text x="425.07" y="489.80" font-size="12.5" font-weight="bold" text-anchor="middle" fill="#111" >1</text>
<text x="425.07" y="505.50" font-size="12.5" font-weight="bold" text-anchor="middle" fill="#111" >0</text>
<text x="446.01" y="489.80" font-size="12.5" font-weight="bold" text-anchor="middle" fill="#111" >1</text>
<text x="445.91" y="505.50" font-size="12.5" font-weight="bold" text-anchor="middle" fill="#111" textLength="18" lengthAdjust="spacingAndGlyphs">2.5</text>
<text x="466.95" y="489.80" font-size="12.5" font-weight="bold" text-anchor="middle" fill="#111" >1</text>
<text x="466.65" y="505.50" font-size="12.5" font-weight="bold" text-anchor="middle" fill="#111" >5</text>
<text x="487.89" y="489.80" font-size="12.5" font-weight="bold" text-anchor="middle" fill="#111" >1</text>
<text x="487.29" y="505.50" font-size="12.5" font-weight="bold" text-anchor="middle" fill="#111" textLength="18" lengthAdjust="spacingAndGlyphs">7.5</text>
<text x="508.83" y="489.80" font-size="12.5" font-weight="bold" text-anchor="middle" fill="#111" >1</text>
<text x="507.03" y="505.50" font-size="12.5" font-weight="bold" text-anchor="middle" fill="#111" textLength="12.6" lengthAdjust="spacingAndGlyphs">10</text>
<rect x="100.50" y="449.1" width="125.50" height="26.6" fill="url(#g1)"/>
<clipPath id="c100"><rect x="100.50" y="449.1" width="125.50" height="26.6"/></clipPath>
<g clip-path="url(#c100)">
<rect x="100" y="471.8" width="127" height="4" fill="#e2e2e2" opacity=".55" filter="url(#b1)"/>
<ellipse cx="110.1" cy="468.3" rx="10.2" ry="6.2" fill="#000" opacity="0.16" filter="url(#b2)"/>
<ellipse cx="130.6" cy="466.4" rx="10.5" ry="5.9" fill="#000" opacity="0.16" filter="url(#b2)"/>
<ellipse cx="151.6" cy="466.2" rx="10.6" ry="6.7" fill="#000" opacity="0.16" filter="url(#b2)"/>
<ellipse cx="173.7" cy="465.1" rx="10.6" ry="6.8" fill="#000" opacity="0.16" filter="url(#b2)"/>
<ellipse cx="194.7" cy="465.7" rx="11.2" ry="7.0" fill="#000" opacity="0.16" filter="url(#b2)"/>
<ellipse cx="216.2" cy="466.0" rx="10.5" ry="5.9" fill="#000" opacity="0.16" filter="url(#b2)"/>
<ellipse cx="131" cy="454.3" rx="4.70" ry="1.90" fill="#1e1e1e" opacity="0.1" filter="url(#b1)"/>
<ellipse cx="110.1" cy="468.3" rx="8.40" ry="4.50" fill="#1e1e1e" opacity="1" filter="url(#b1)"/>
<ellipse cx="130.6" cy="466.4" rx="8.70" ry="4.20" fill="#1e1e1e" opacity="1" filter="url(#b1)"/>
<ellipse cx="151.6" cy="466.2" rx="8.80" ry="5.00" fill="#1e1e1e" opacity="1" filter="url(#b1)"/>
<ellipse cx="173.7" cy="465.1" rx="8.80" ry="5.10" fill="#1e1e1e" opacity="1" filter="url(#b1)"/>
<ellipse cx="194.7" cy="465.7" rx="9.40" ry="5.30" fill="#1e1e1e" opacity="1" filter="url(#b1)"/>
<ellipse cx="216.2" cy="466.0" rx="8.70" ry="4.20" fill="#1e1e1e" opacity="1" filter="url(#b1)"/>
</g>
<rect x="246.00" y="449.1" width="126.90" height="26.6" fill="url(#g2)"/>
<clipPath id="c246"><rect x="246.00" y="449.1" width="126.90" height="26.6"/></clipPath>
<g clip-path="url(#c246)">
<rect x="245" y="470.5" width="129" height="6" fill="#e6e6e6" opacity=".5" filter="url(#b1)"/>
<ellipse cx="280.7" cy="456.6" rx="10.8" ry="6.3" fill="#000" opacity="0.18" filter="url(#b2)"/>
<ellipse cx="301.7" cy="456.3" rx="10.7" ry="5.4" fill="#000" opacity="0.18" filter="url(#b2)"/>
<ellipse cx="322.2" cy="456.5" rx="9.5" ry="4.2" fill="#000" opacity="0.18" filter="url(#b2)"/>
<ellipse cx="259.5" cy="466.4" rx="11.2" ry="5.9" fill="#000" opacity="0.18" filter="url(#b2)"/>
<ellipse cx="280.4" cy="465.6" rx="11.9" ry="6.7" fill="#000" opacity="0.18" filter="url(#b2)"/>
<ellipse cx="300.8" cy="464.9" rx="12.1" ry="6.5" fill="#000" opacity="0.18" filter="url(#b2)"/>
<ellipse cx="321.5" cy="464.6" rx="11.6" ry="6.4" fill="#000" opacity="0.18" filter="url(#b2)"/>
<ellipse cx="341.7" cy="464.5" rx="11.6" ry="5.9" fill="#000" opacity="0.18" filter="url(#b2)"/>
<ellipse cx="362.5" cy="464.7" rx="12.1" ry="5.7" fill="#000" opacity="0.18" filter="url(#b2)"/>
<ellipse cx="280.7" cy="456.6" rx="9.00" ry="4.60" fill="#1c1c1c" opacity="1" filter="url(#b1)"/>
<ellipse cx="301.7" cy="456.3" rx="8.90" ry="3.70" fill="#1c1c1c" opacity="1" filter="url(#b1)"/>
<ellipse cx="322.2" cy="456.5" rx="7.70" ry="2.50" fill="#1c1c1c" opacity="0.95" filter="url(#b1)"/>
<ellipse cx="342.3" cy="457.1" rx="6.50" ry="1.60" fill="#1c1c1c" opacity="0.55" filter="url(#b1)"/>
<ellipse cx="362.9" cy="457.4" rx="6.20" ry="1.40" fill="#1c1c1c" opacity="0.42" filter="url(#b1)"/>
<ellipse cx="259.5" cy="466.4" rx="9.40" ry="4.20" fill="#1c1c1c" opacity="1" filter="url(#b1)"/>
<ellipse cx="280.4" cy="465.6" rx="10.10" ry="5.00" fill="#1c1c1c" opacity="1" filter="url(#b1)"/>
<ellipse cx="300.8" cy="464.9" rx="10.30" ry="4.80" fill="#1c1c1c" opacity="1" filter="url(#b1)"/>
<ellipse cx="321.5" cy="464.6" rx="9.80" ry="4.70" fill="#1c1c1c" opacity="1" filter="url(#b1)"/>
<ellipse cx="341.7" cy="464.5" rx="9.80" ry="4.20" fill="#1c1c1c" opacity="1" filter="url(#b1)"/>
<ellipse cx="362.5" cy="464.7" rx="10.30" ry="4.00" fill="#1c1c1c" opacity="1" filter="url(#b1)"/>
</g>
<rect x="393.10" y="449.1" width="125.30" height="26.6" fill="url(#g3)"/>
<clipPath id="c393"><rect x="393.10" y="449.1" width="125.30" height="26.6"/></clipPath>
<g clip-path="url(#c393)">

<ellipse cx="427.4" cy="456.2" rx="10.0" ry="6.1" fill="#000" opacity="0.3" filter="url(#b2)"/>
<ellipse cx="427.4" cy="460.8" rx="7.7" ry="5.9" fill="#000" opacity="0.3" filter="url(#b2)"/>
<ellipse cx="447.9" cy="455.6" rx="9.6" ry="6.1" fill="#000" opacity="0.3" filter="url(#b2)"/>
<ellipse cx="447.9" cy="460.20000000000005" rx="7.3" ry="5.9" fill="#000" opacity="0.3" filter="url(#b2)"/>
<ellipse cx="467.5" cy="455.2" rx="10.3" ry="6.1" fill="#000" opacity="0.3" filter="url(#b2)"/>
<ellipse cx="467.5" cy="459.8" rx="8.0" ry="5.9" fill="#000" opacity="0.3" filter="url(#b2)"/>
<ellipse cx="487.8" cy="455.2" rx="10.2" ry="6.1" fill="#000" opacity="0.3" filter="url(#b2)"/>
<ellipse cx="487.8" cy="459.8" rx="7.9" ry="5.9" fill="#000" opacity="0.3" filter="url(#b2)"/>
<ellipse cx="508.4" cy="455.2" rx="10.4" ry="6.1" fill="#000" opacity="0.3" filter="url(#b2)"/>
<ellipse cx="508.4" cy="459.8" rx="8.100000000000001" ry="5.9" fill="#000" opacity="0.3" filter="url(#b2)"/>
<ellipse cx="405.2" cy="468.9" rx="11.9" ry="7.5" fill="#000" opacity="0.3" filter="url(#b2)"/>
<ellipse cx="426.4" cy="468.2" rx="12.1" ry="6.8" fill="#000" opacity="0.3" filter="url(#b2)"/>
<ellipse cx="447.4" cy="467.3" rx="11.7" ry="6.6" fill="#000" opacity="0.3" filter="url(#b2)"/>
<ellipse cx="467.4" cy="467.2" rx="11.7" ry="6.6" fill="#000" opacity="0.3" filter="url(#b2)"/>
<ellipse cx="487.8" cy="467.2" rx="11.5" ry="6.6" fill="#000" opacity="0.3" filter="url(#b2)"/>
<ellipse cx="508.4" cy="467.2" rx="11.8" ry="6.6" fill="#000" opacity="0.3" filter="url(#b2)"/>
<ellipse cx="427.4" cy="456.2" rx="8.20" ry="4.40" fill="#101010" opacity="1" filter="url(#b1)"/>
<ellipse cx="427.4" cy="460.8" rx="5.90" ry="4.20" fill="#101010" opacity="1" filter="url(#b1)"/>
<ellipse cx="447.9" cy="455.6" rx="7.80" ry="4.40" fill="#101010" opacity="1" filter="url(#b1)"/>
<ellipse cx="447.9" cy="460.20000000000005" rx="5.50" ry="4.20" fill="#101010" opacity="1" filter="url(#b1)"/>
<ellipse cx="467.5" cy="455.2" rx="8.50" ry="4.40" fill="#101010" opacity="1" filter="url(#b1)"/>
<ellipse cx="467.5" cy="459.8" rx="6.20" ry="4.20" fill="#101010" opacity="1" filter="url(#b1)"/>
<ellipse cx="487.8" cy="455.2" rx="8.40" ry="4.40" fill="#101010" opacity="1" filter="url(#b1)"/>
<ellipse cx="487.8" cy="459.8" rx="6.10" ry="4.20" fill="#101010" opacity="1" filter="url(#b1)"/>
<ellipse cx="508.4" cy="455.2" rx="8.60" ry="4.40" fill="#101010" opacity="1" filter="url(#b1)"/>
<ellipse cx="508.4" cy="459.8" rx="6.30" ry="4.20" fill="#101010" opacity="1" filter="url(#b1)"/>
<ellipse cx="405.2" cy="468.9" rx="10.10" ry="5.80" fill="#101010" opacity="1" filter="url(#b1)"/>
<ellipse cx="426.4" cy="468.2" rx="10.30" ry="5.10" fill="#101010" opacity="1" filter="url(#b1)"/>
<ellipse cx="447.4" cy="467.3" rx="9.90" ry="4.90" fill="#101010" opacity="1" filter="url(#b1)"/>
<ellipse cx="467.4" cy="467.2" rx="9.90" ry="4.90" fill="#101010" opacity="1" filter="url(#b1)"/>
<ellipse cx="487.8" cy="467.2" rx="9.70" ry="4.90" fill="#101010" opacity="1" filter="url(#b1)"/>
<ellipse cx="508.4" cy="467.2" rx="10.00" ry="4.90" fill="#101010" opacity="1" filter="url(#b1)"/>
</g>
<text x="98.90" y="462.00" font-size="13.3" font-weight="bold" text-anchor="end" fill="#111" >VEGF (IP/IB) -</text>
<text x="98.90" y="474.30" font-size="13.35" font-weight="bold" text-anchor="end" fill="#111" >light chain -</text>
<line x1="100.7" y1="546.25" x2="100.7" y2="727.40" stroke="#7f7f7f" stroke-width="1"/>
<line x1="96.2" y1="727.40" x2="100.7" y2="727.40" stroke="#7f7f7f" stroke-width="1"/>
<text x="87.60" y="733.00" font-size="12.5" font-weight="normal" text-anchor="end" fill="#222" >0</text>
<line x1="96.2" y1="691.17" x2="100.7" y2="691.17" stroke="#7f7f7f" stroke-width="1"/>
<text x="87.60" y="696.77" font-size="12.5" font-weight="normal" text-anchor="end" fill="#222" >2</text>
<line x1="96.2" y1="654.94" x2="100.7" y2="654.94" stroke="#7f7f7f" stroke-width="1"/>
<text x="87.60" y="660.54" font-size="12.5" font-weight="normal" text-anchor="end" fill="#222" >4</text>
<line x1="96.2" y1="618.71" x2="100.7" y2="618.71" stroke="#7f7f7f" stroke-width="1"/>
<text x="87.60" y="624.31" font-size="12.5" font-weight="normal" text-anchor="end" fill="#222" >6</text>
<line x1="96.2" y1="582.48" x2="100.7" y2="582.48" stroke="#7f7f7f" stroke-width="1"/>
<text x="87.60" y="588.08" font-size="12.5" font-weight="normal" text-anchor="end" fill="#222" >8</text>
<line x1="96.2" y1="546.25" x2="100.7" y2="546.25" stroke="#7f7f7f" stroke-width="1"/>
<text x="87.60" y="551.85" font-size="12.5" font-weight="normal" text-anchor="end" fill="#222" >10</text>
<rect x="105.32" y="709.10" width="11.7" height="18.30" fill="#262626" stroke="#111" stroke-width="0.4"/>
<path d="M109.97 708.60h2.4" stroke="#222" stroke-width="0.8" fill="none"/>
<rect x="126.26" y="691.71" width="11.7" height="35.69" fill="#262626" stroke="#111" stroke-width="0.4"/>
<path d="M132.11 689.41V691.71M130.61 689.41h3" stroke="#111" stroke-width="0.75" fill="none"/>
<path d="M132.11 691.71V694.01M130.61 694.01h3" stroke="#141414" stroke-width="0.8" fill="none"/>
<rect x="147.20" y="702.94" width="11.7" height="24.46" fill="#262626" stroke="#111" stroke-width="0.4"/>
<path d="M153.05 701.24V702.94M151.55 701.24h3" stroke="#111" stroke-width="0.75" fill="none"/>
<path d="M153.05 702.94V704.64M151.55 704.64h3" stroke="#141414" stroke-width="0.8" fill="none"/>
<rect x="168.14" y="706.21" width="11.7" height="21.19" fill="#262626" stroke="#111" stroke-width="0.4"/>
<path d="M172.79 705.71h2.4" stroke="#222" stroke-width="0.8" fill="none"/>
<rect x="189.08" y="706.75" width="11.7" height="20.65" fill="#262626" stroke="#111" stroke-width="0.4"/>
<path d="M193.73 706.45h2.4" stroke="#222" stroke-width="0.8" fill="none"/>
<rect x="210.02" y="709.65" width="11.7" height="17.75" fill="#262626" stroke="#111" stroke-width="0.4"/>
<path d="M215.87 707.65V709.65M214.37 707.65h3" stroke="#111" stroke-width="0.75" fill="none"/>
<path d="M215.87 709.65V711.65M214.37 711.65h3" stroke="#141414" stroke-width="0.8" fill="none"/>
<rect x="251.90" y="706.39" width="11.7" height="21.01" fill="#262626" stroke="#111" stroke-width="0.4"/>
<path d="M257.75 705.19V706.39M256.25 705.19h3" stroke="#111" stroke-width="0.75" fill="none"/>
<path d="M257.75 706.39V707.59M256.25 707.59h3" stroke="#141414" stroke-width="0.8" fill="none"/>
<rect x="272.84" y="639.54" width="11.7" height="87.86" fill="#262626" stroke="#111" stroke-width="0.4"/>
<path d="M278.69 635.54V639.54M277.19 635.54h3" stroke="#111" stroke-width="0.75" fill="none"/>
<path d="M278.69 639.54V643.54M277.19 643.54h3" stroke="#141414" stroke-width="0.8" fill="none"/>
<rect x="293.78" y="672.69" width="11.7" height="54.71" fill="#262626" stroke="#111" stroke-width="0.4"/>
<path d="M299.63 666.29V672.69M298.13 666.29h3" stroke="#111" stroke-width="0.75" fill="none"/>
<path d="M299.63 672.69V679.09M298.13 679.09h3" stroke="#141414" stroke-width="0.8" fill="none"/>
<rect x="314.72" y="677.22" width="11.7" height="50.18" fill="#262626" stroke="#111" stroke-width="0.4"/>
<path d="M320.57 673.42V677.22M319.07 673.42h3" stroke="#111" stroke-width="0.75" fill="none"/>
<path d="M320.57 677.22V681.02M319.07 681.02h3" stroke="#141414" stroke-width="0.8" fill="none"/>
<rect x="335.66" y="698.78" width="11.7" height="28.62" fill="#262626" stroke="#111" stroke-width="0.4"/>
<path d="M341.51 690.78V698.78M340.01 690.78h3" stroke="#111" stroke-width="0.75" fill="none"/>
<path d="M341.51 698.78V706.78M340.01 706.78h3" stroke="#141414" stroke-width="0.8" fill="none"/>
<rect x="356.60" y="704.39" width="11.7" height="23.01" fill="#262626" stroke="#111" stroke-width="0.4"/>
<path d="M361.25 703.79h2.4" stroke="#222" stroke-width="0.8" fill="none"/>
<rect x="398.48" y="690.63" width="11.7" height="36.77" fill="#262626" stroke="#111" stroke-width="0.4"/>
<path d="M404.33 687.73V690.63M402.83 687.73h3" stroke="#111" stroke-width="0.75" fill="none"/>
<path d="M404.33 690.63V693.53M402.83 693.53h3" stroke="#141414" stroke-width="0.8" fill="none"/>
<rect x="419.42" y="570.71" width="11.7" height="156.69" fill="#262626" stroke="#111" stroke-width="0.4"/>
<path d="M425.27 567.21V570.71M423.77 567.21h3" stroke="#111" stroke-width="0.75" fill="none"/>
<path d="M425.27 570.71V574.21M423.77 574.21h3" stroke="#141414" stroke-width="0.8" fill="none"/>
<rect x="440.36" y="570.52" width="11.7" height="156.88" fill="#262626" stroke="#111" stroke-width="0.4"/>
<path d="M446.21 568.52V570.52M444.71 568.52h3" stroke="#111" stroke-width="0.75" fill="none"/>
<path d="M446.21 570.52V572.52M444.71 572.52h3" stroke="#141414" stroke-width="0.8" fill="none"/>
<rect x="461.30" y="573.97" width="11.7" height="153.43" fill="#262626" stroke="#111" stroke-width="0.4"/>
<path d="M467.15 568.27V573.97M465.65 568.27h3" stroke="#111" stroke-width="0.75" fill="none"/>
<path d="M467.15 573.97V579.67M465.65 579.67h3" stroke="#141414" stroke-width="0.8" fill="none"/>
<rect x="482.24" y="580.31" width="11.7" height="147.09" fill="#262626" stroke="#111" stroke-width="0.4"/>
<path d="M488.09 579.31V580.31M486.59 579.31h3" stroke="#111" stroke-width="0.75" fill="none"/>
<path d="M488.09 580.31V581.31M486.59 581.31h3" stroke="#141414" stroke-width="0.8" fill="none"/>
<rect x="503.18" y="579.76" width="11.7" height="147.64" fill="#262626" stroke="#111" stroke-width="0.4"/>
<path d="M509.03 578.36V579.76M507.53 578.36h3" stroke="#111" stroke-width="0.75" fill="none"/>
<path d="M509.03 579.76V581.16M507.53 581.16h3" stroke="#141414" stroke-width="0.8" fill="none"/>
<text x="133.40" y="689.60" font-size="16.4" font-weight="bold" text-anchor="middle" fill="#111" >***</text>
<text x="153.60" y="700.90" font-size="16.4" font-weight="bold" text-anchor="middle" fill="#111" >**</text>
<text x="278.80" y="635.20" font-size="16.4" font-weight="bold" text-anchor="middle" fill="#111" >***</text>
<text x="299.20" y="666.30" font-size="16.4" font-weight="bold" text-anchor="middle" fill="#111" >***</text>
<text x="320.60" y="675.00" font-size="16.4" font-weight="bold" text-anchor="middle" fill="#111" >***</text>
<text x="424.80" y="568.90" font-size="16.4" font-weight="bold" text-anchor="middle" fill="#111" >***</text>
<text x="445.60" y="568.90" font-size="16.4" font-weight="bold" text-anchor="middle" fill="#111" >***</text>
<text x="466.60" y="570.30" font-size="16.4" font-weight="bold" text-anchor="middle" fill="#111" >***</text>
<text x="487.40" y="578.90" font-size="16.4" font-weight="bold" text-anchor="middle" fill="#111" >***</text>
<text x="508.40" y="578.10" font-size="16.4" font-weight="bold" text-anchor="middle" fill="#111" >***</text>
<text transform="translate(65.6,732.70) rotate(-90)" font-size="13.5" font-weight="bold" fill="#111" textLength="208.6" lengthAdjust="spacingAndGlyphs"><tspan font-size="10" dy="-5">3</tspan><tspan dy="5">H-Thymidine Incorporation (fold)</tspan></text>
<text x="0.00" y="541.60" font-size="24.5" font-weight="bold" text-anchor="start" fill="#111" >C</text>
<text x="3.40" y="568.40" font-size="16.6" font-weight="bold" text-anchor="start" fill="#111" >Prolif</text>
<text x="165.20" y="547.70" font-size="13.15" font-weight="bold" text-anchor="middle" fill="#111" >Scrambled</text>
<text x="310.50" y="547.70" font-size="13.15" font-weight="bold" text-anchor="middle" fill="#111" >ALK1 (50 %)</text>
<text x="456.20" y="547.70" font-size="13.15" font-weight="bold" text-anchor="middle" fill="#111" >ALK1 (15%)</text>
<line x1="100.7" y1="727.30" x2="518.20" y2="727.30" stroke="#333" stroke-width="1"/>
<line x1="100.7" y1="745.30" x2="518.20" y2="745.30" stroke="#333" stroke-width="1"/>
<line x1="100.7" y1="761.80" x2="518.20" y2="761.80" stroke="#333" stroke-width="1"/>
<line x1="100.70" y1="727.30" x2="100.70" y2="763.30" stroke="#333" stroke-width="1"/>
<line x1="121.64" y1="727.30" x2="121.64" y2="763.30" stroke="#333" stroke-width="1"/>
<line x1="142.58" y1="727.30" x2="142.58" y2="763.30" stroke="#333" stroke-width="1"/>
<line x1="163.52" y1="727.30" x2="163.52" y2="763.30" stroke="#333" stroke-width="1"/>
<line x1="184.46" y1="727.30" x2="184.46" y2="763.30" stroke="#333" stroke-width="1"/>
<line x1="205.40" y1="727.30" x2="205.40" y2="763.30" stroke="#333" stroke-width="1"/>
<line x1="226.34" y1="727.30" x2="226.34" y2="763.30" stroke="#333" stroke-width="1"/>
<line x1="247.28" y1="727.30" x2="247.28" y2="763.30" stroke="#333" stroke-width="1"/>
<line x1="268.22" y1="727.30" x2="268.22" y2="763.30" stroke="#333" stroke-width="1"/>
<line x1="289.16" y1="727.30" x2="289.16" y2="763.30" stroke="#333" stroke-width="1"/>
<line x1="310.10" y1="727.30" x2="310.10" y2="763.30" stroke="#333" stroke-width="1"/>
<line x1="331.04" y1="727.30" x2="331.04" y2="763.30" stroke="#333" stroke-width="1"/>
<line x1="351.98" y1="727.30" x2="351.98" y2="763.30" stroke="#333" stroke-width="1"/>
<line x1="372.92" y1="727.30" x2="372.92" y2="763.30" stroke="#333" stroke-width="1"/>
<line x1="393.86" y1="727.30" x2="393.86" y2="763.30" stroke="#333" stroke-width="1"/>
<line x1="414.80" y1="727.30" x2="414.80" y2="763.30" stroke="#333" stroke-width="1"/>
<line x1="435.74" y1="727.30" x2="435.74" y2="763.30" stroke="#333" stroke-width="1"/>
<line x1="456.68" y1="727.30" x2="456.68" y2="763.30" stroke="#333" stroke-width="1"/>
<line x1="477.62" y1="727.30" x2="477.62" y2="763.30" stroke="#333" stroke-width="1"/>
<line x1="498.56" y1="727.30" x2="498.56" y2="763.30" stroke="#333" stroke-width="1"/>
<line x1="518.20" y1="727.30" x2="518.20" y2="763.30" stroke="#333" stroke-width="1"/>
<text x="99.00" y="746.00" font-size="12.8" font-weight="bold" text-anchor="end" fill="#111" >TGF-ß1 (ng/mL)</text>
<text x="99.00" y="761.00" font-size="13.15" font-weight="bold" text-anchor="end" fill="#111" >BMP-9 (ng/mL)</text>
<text x="110.97" y="740.90" font-size="12.5" font-weight="bold" text-anchor="middle" fill="#111" >0</text>
<text x="110.97" y="758.10" font-size="12.5" font-weight="bold" text-anchor="middle" fill="#111" >0</text>
<text x="131.91" y="740.90" font-size="12.5" font-weight="bold" text-anchor="middle" fill="#111" >1</text>
<text x="131.91" y="758.10" font-size="12.5" font-weight="bold" text-anchor="middle" fill="#111" >0</text>
<text x="152.85" y="740.90" font-size="12.5" font-weight="bold" text-anchor="middle" fill="#111" >1</text>
<text x="152.75" y="758.10" font-size="12.5" font-weight="bold" text-anchor="middle" fill="#111" textLength="18" lengthAdjust="spacingAndGlyphs">2.5</text>
<text x="173.79" y="740.90" font-size="12.5" font-weight="bold" text-anchor="middle" fill="#111" >1</text>
<text x="173.49" y="758.10" font-size="12.5" font-weight="bold" text-anchor="middle" fill="#111" >5</text>
<text x="194.73" y="740.90" font-size="12.5" font-weight="bold" text-anchor="middle" fill="#111" >1</text>
<text x="194.13" y="758.10" font-size="12.5" font-weight="bold" text-anchor="middle" fill="#111" textLength="18" lengthAdjust="spacingAndGlyphs">7.5</text>
<text x="215.67" y="740.90" font-size="12.5" font-weight="bold" text-anchor="middle" fill="#111" >1</text>
<text x="213.87" y="758.10" font-size="12.5" font-weight="bold" text-anchor="middle" fill="#111" textLength="12.6" lengthAdjust="spacingAndGlyphs">10</text>
<text x="257.55" y="740.90" font-size="12.5" font-weight="bold" text-anchor="middle" fill="#111" >0</text>
<text x="257.55" y="758.10" font-size="12.5" font-weight="bold" text-anchor="middle" fill="#111" >0</text>
<text x="278.49" y="740.90" font-size="12.5" font-weight="bold" text-anchor="middle" fill="#111" >1</text>
<text x="278.49" y="758.10" font-size="12.5" font-weight="bold" text-anchor="middle" fill="#111" >0</text>
<text x="299.43" y="740.90" font-size="12.5" font-weight="bold" text-anchor="middle" fill="#111" >1</text>
<text x="299.33" y="758.10" font-size="12.5" font-weight="bold" text-anchor="middle" fill="#111" textLength="18" lengthAdjust="spacingAndGlyphs">2.5</text>
<text x="320.37" y="740.90" font-size="12.5" font-weight="bold" text-anchor="middle" fill="#111" >1</text>
<text x="320.07" y="758.10" font-size="12.5" font-weight="bold" text-anchor="middle" fill="#111" >5</text>
<text x="341.31" y="740.90" font-size="12.5" font-weight="bold" text-anchor="middle" fill="#111" >1</text>
<text x="340.71" y="758.10" font-size="12.5" font-weight="bold" text-anchor="middle" fill="#111" textLength="18" lengthAdjust="spacingAndGlyphs">7.5</text>
<text x="362.25" y="740.90" font-size="12.5" font-weight="bold" text-anchor="middle" fill="#111" >1</text>
<text x="360.45" y="758.10" font-size="12.5" font-weight="bold" text-anchor="middle" fill="#111" textLength="12.6" lengthAdjust="spacingAndGlyphs">10</text>
<text x="404.13" y="740.90" font-size="12.5" font-weight="bold" text-anchor="middle" fill="#111" >0</text>
<text x="404.13" y="758.10" font-size="12.5" font-weight="bold" text-anchor="middle" fill="#111" >0</text>
<text x="425.07" y="740.90" font-size="12.5" font-weight="bold" text-anchor="middle" fill="#111" >1</text>
<text x="425.07" y="758.10" font-size="12.5" font-weight="bold" text-anchor="middle" fill="#111" >0</text>
<text x="446.01" y="740.90" font-size="12.5" font-weight="bold" text-anchor="middle" fill="#111" >1</text>
<text x="445.91" y="758.10" font-size="12.5" font-weight="bold" text-anchor="middle" fill="#111" textLength="18" lengthAdjust="spacingAndGlyphs">2.5</text>
<text x="466.95" y="740.90" font-size="12.5" font-weight="bold" text-anchor="middle" fill="#111" >1</text>
<text x="466.65" y="758.10" font-size="12.5" font-weight="bold" text-anchor="middle" fill="#111" >5</text>
<text x="487.89" y="740.90" font-size="12.5" font-weight="bold" text-anchor="middle" fill="#111" >1</text>
<text x="487.29" y="758.10" font-size="12.5" font-weight="bold" text-anchor="middle" fill="#111" textLength="18" lengthAdjust="spacingAndGlyphs">7.5</text>
<text x="508.83" y="740.90" font-size="12.5" font-weight="bold" text-anchor="middle" fill="#111" >1</text>
<text x="507.03" y="758.10" font-size="12.5" font-weight="bold" text-anchor="middle" fill="#111" textLength="12.6" lengthAdjust="spacingAndGlyphs">10</text>
</svg>
</body></html>
